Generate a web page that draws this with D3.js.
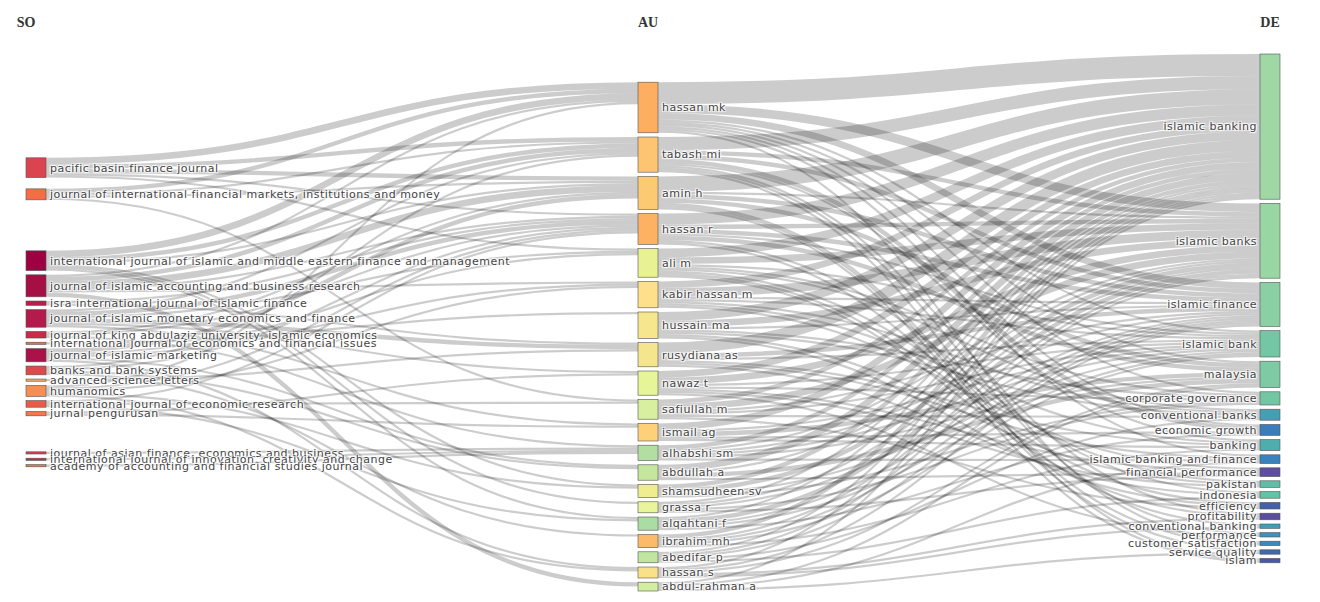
<!DOCTYPE html>
<html lang="en">
<head>
  <meta charset="UTF-8" />
  <title>Three-Field Plot: SO - AU - DE</title>
  <script src="https://d3js.org/d3.v7.min.js"></script>
  <style>
    body { margin: 0; padding: 0; background: #fff; }
    .link { fill: none; stroke: rgba(0, 0, 0, 0.2); }
    .node rect { stroke: #555; stroke-width: 0.6; }
    .node text {
      font-family: "DejaVu Sans", Verdana, sans-serif;
      font-size: 11px;
      letter-spacing: 0.5px;
      fill: #444;
      text-shadow: 1px 1px 1px #fff, -1px -1px 1px #fff, 1px -1px 1px #fff, -1px 1px 1px #fff;
    }
    .field-title {
      font-family: "Liberation Serif", "Times New Roman", serif;
      font-weight: bold;
      font-size: 14px;
      fill: #333;
    }
  </style>
</head>
<body>
<div id="chart"></div>
<script>
  /*****************************************************************
   * Data: the three fields and their node colours
   *****************************************************************/
  const fields = ["SO", "AU", "DE"];

  const soNames = [
    "pacific basin finance journal",
    "journal of international financial markets, institutions and money",
    "international journal of islamic and middle eastern finance and management",
    "journal of islamic accounting and business research",
    "isra international journal of islamic finance",
    "journal of islamic monetary economics and finance",
    "journal of king abdulaziz university, islamic economics",
    "international journal of economics and financial issues",
    "journal of islamic marketing",
    "banks and bank systems",
    "advanced science letters",
    "humanomics",
    "international journal of economic research",
    "jurnal pengurusan",
    "journal of asian finance, economics and business",
    "international journal of innovation, creativity and change",
    "academy of accounting and financial studies journal"
  ];
  const soColors = [
    "#d9444f", "#f46d43", "#9e0142", "#a50f44", "#b8204a", "#b41a4a",
    "#c72b48", "#f06b45", "#aa1248", "#dc4a4c", "#fca65e", "#f98e52",
    "#e85c47", "#f4794a", "#d1404e", "#c12d49", "#e9774b"
  ];

  const auNames = [
    "hassan mk", "tabash mi", "amin h", "hassan r", "ali m", "kabir hassan m",
    "hussain ma", "rusydiana as", "nawaz t", "safiullah m", "ismail ag",
    "alhabshi sm", "abdullah a", "shamsudheen sv", "grassa r", "alqahtani f",
    "ibrahim mh", "abedifar p", "hassan s", "abdul-rahman a"
  ];
  const auColors = [
    "#fdae61", "#fdc571", "#fdca74", "#fdb263", "#e8f193", "#fee08b",
    "#f6e78e", "#f5e68d", "#e6f598", "#d8efa0", "#fed07a", "#b2dea2",
    "#c5e79d", "#f0ec90", "#e9f59a", "#aadda3", "#fdba6b", "#bfe5a0",
    "#fbe08a", "#d3eea0"
  ];

  const deNames = [
    "islamic banking", "islamic banks", "islamic finance", "islamic bank",
    "malaysia", "corporate governance", "conventional banks", "economic growth",
    "banking", "islamic banking and finance", "financial performance",
    "pakistan", "indonesia", "efficiency", "profitability",
    "conventional banking", "performance", "customer satisfaction",
    "service quality", "islam"
  ];
  const deColors = [
    "#9fd8a4", "#98d6a3", "#8bd0a4", "#73c7a5", "#7dcaa4", "#72c6a4",
    "#43a0b3", "#3a7dba", "#4eaeae", "#3683c0", "#5e4ea1", "#5fbea7",
    "#66c2a5", "#4263ab", "#5a4d9f", "#3ba0b8", "#3f92bd", "#3b89bd",
    "#4169ac", "#4b5aa8"
  ];

  // source -> author flows
  const soAuLinks = [
    ["pacific basin finance journal", "hassan mk", 3],
    ["pacific basin finance journal", "tabash mi", 2],
    ["pacific basin finance journal", "amin h", 2],
    ["pacific basin finance journal", "hassan r", 1],
    ["pacific basin finance journal", "ali m", 1],
    ["journal of international financial markets, institutions and money", "hassan mk", 2],
    ["journal of international financial markets, institutions and money", "tabash mi", 1],
    ["journal of international financial markets, institutions and money", "amin h", 1],
    ["journal of international financial markets, institutions and money", "safiullah m", 1],
    ["international journal of islamic and middle eastern finance and management", "hassan mk", 3],
    ["international journal of islamic and middle eastern finance and management", "tabash mi", 2],
    ["international journal of islamic and middle eastern finance and management", "amin h", 1],
    ["international journal of islamic and middle eastern finance and management", "shamsudheen sv", 1],
    ["international journal of islamic and middle eastern finance and management", "grassa r", 1],
    ["international journal of islamic and middle eastern finance and management", "alqahtani f", 1],
    ["journal of islamic accounting and business research", "hassan mk", 1],
    ["journal of islamic accounting and business research", "tabash mi", 2],
    ["journal of islamic accounting and business research", "amin h", 3],
    ["journal of islamic accounting and business research", "hassan r", 1],
    ["journal of islamic accounting and business research", "kabir hassan m", 1],
    ["journal of islamic accounting and business research", "abdul-rahman a", 2],
    ["isra international journal of islamic finance", "hassan r", 1],
    ["isra international journal of islamic finance", "rusydiana as", 1],
    ["journal of islamic monetary economics and finance", "tabash mi", 1],
    ["journal of islamic monetary economics and finance", "hassan r", 2],
    ["journal of islamic monetary economics and finance", "ali m", 1],
    ["journal of islamic monetary economics and finance", "rusydiana as", 2],
    ["journal of islamic monetary economics and finance", "nawaz t", 1],
    ["journal of islamic monetary economics and finance", "ismail ag", 1],
    ["journal of king abdulaziz university, islamic economics", "amin h", 1],
    ["journal of king abdulaziz university, islamic economics", "hassan r", 1],
    ["journal of king abdulaziz university, islamic economics", "alhabshi sm", 1],
    ["international journal of economics and financial issues", "hussain ma", 1],
    ["journal of islamic marketing", "amin h", 2],
    ["journal of islamic marketing", "ali m", 1],
    ["journal of islamic marketing", "kabir hassan m", 1],
    ["journal of islamic marketing", "abdullah a", 1],
    ["journal of islamic marketing", "hassan s", 1],
    ["banks and bank systems", "tabash mi", 1],
    ["banks and bank systems", "hassan r", 1],
    ["banks and bank systems", "abdullah a", 1],
    ["banks and bank systems", "ibrahim mh", 1],
    ["advanced science letters", "rusydiana as", 1],
    ["humanomics", "hassan mk", 1],
    ["humanomics", "hassan r", 1],
    ["humanomics", "kabir hassan m", 1],
    ["humanomics", "shamsudheen sv", 1],
    ["humanomics", "hassan s", 1],
    ["international journal of economic research", "hassan r", 1],
    ["international journal of economic research", "safiullah m", 1],
    ["international journal of economic research", "alqahtani f", 1],
    ["jurnal pengurusan", "nawaz t", 1],
    ["jurnal pengurusan", "ismail ag", 1],
    ["journal of asian finance, economics and business", "alhabshi sm", 1],
    ["international journal of innovation, creativity and change", "alhabshi sm", 1],
    ["academy of accounting and financial studies journal", "alhabshi sm", 1]
  ];

  // author -> keyword flows
  const auDeLinks = [
    ["hassan mk", "islamic banking", 10], ["hassan mk", "islamic banks", 4],
    ["hassan mk", "islamic finance", 3], ["hassan mk", "islamic bank", 1],
    ["hassan mk", "malaysia", 1], ["hassan mk", "corporate governance", 1],
    ["hassan mk", "economic growth", 1], ["hassan mk", "islamic banking and finance", 1],
    ["hassan mk", "customer satisfaction", 1],
    ["tabash mi", "islamic banking", 6], ["tabash mi", "islamic banks", 2],
    ["tabash mi", "islamic finance", 2], ["tabash mi", "economic growth", 2],
    ["tabash mi", "banking", 1], ["tabash mi", "profitability", 1],
    ["tabash mi", "performance", 1], ["tabash mi", "islam", 1],
    ["amin h", "islamic banking", 7], ["amin h", "islamic banks", 1],
    ["amin h", "islamic finance", 2], ["amin h", "malaysia", 2],
    ["amin h", "customer satisfaction", 1], ["amin h", "service quality", 1],
    ["amin h", "islam", 1],
    ["hassan r", "islamic banking", 5], ["hassan r", "islamic banks", 2],
    ["hassan r", "islamic finance", 2], ["hassan r", "islamic bank", 1],
    ["hassan r", "malaysia", 2], ["hassan r", "indonesia", 1],
    ["hassan r", "conventional banking", 1],
    ["ali m", "islamic banking", 4], ["ali m", "islamic banks", 3],
    ["ali m", "islamic bank", 1], ["ali m", "corporate governance", 1],
    ["ali m", "conventional banks", 1], ["ali m", "pakistan", 1],
    ["ali m", "efficiency", 1], ["ali m", "profitability", 1],
    ["kabir hassan m", "islamic banking", 3], ["kabir hassan m", "islamic banks", 4],
    ["kabir hassan m", "islamic finance", 1], ["kabir hassan m", "islamic bank", 1],
    ["kabir hassan m", "conventional banks", 1], ["kabir hassan m", "banking", 1],
    ["kabir hassan m", "financial performance", 1],
    ["hussain ma", "islamic banking", 4], ["hussain ma", "islamic banks", 3],
    ["hussain ma", "islamic finance", 1], ["hussain ma", "corporate governance", 1],
    ["hussain ma", "conventional banks", 1], ["hussain ma", "pakistan", 1],
    ["hussain ma", "efficiency", 1],
    ["rusydiana as", "islamic banking", 5], ["rusydiana as", "islamic finance", 2],
    ["rusydiana as", "islamic bank", 1], ["rusydiana as", "banking", 1],
    ["rusydiana as", "islamic banking and finance", 1], ["rusydiana as", "indonesia", 1],
    ["nawaz t", "islamic banking", 3], ["nawaz t", "islamic banks", 3],
    ["nawaz t", "islamic bank", 1], ["nawaz t", "corporate governance", 1],
    ["nawaz t", "financial performance", 1], ["nawaz t", "pakistan", 1],
    ["nawaz t", "performance", 1],
    ["safiullah m", "islamic banking", 2], ["safiullah m", "islamic banks", 3],
    ["safiullah m", "islamic finance", 1], ["safiullah m", "islamic bank", 1],
    ["safiullah m", "conventional banks", 1], ["safiullah m", "efficiency", 1],
    ["ismail ag", "islamic banking", 3], ["ismail ag", "islamic bank", 1],
    ["ismail ag", "malaysia", 2], ["ismail ag", "economic growth", 1],
    ["ismail ag", "banking", 1],
    ["alhabshi sm", "islamic banking", 2], ["alhabshi sm", "islamic banks", 1],
    ["alhabshi sm", "islamic finance", 1], ["alhabshi sm", "islamic bank", 1],
    ["alhabshi sm", "malaysia", 1], ["alhabshi sm", "islamic banking and finance", 1],
    ["abdullah a", "islamic banking", 3], ["abdullah a", "islamic banks", 1],
    ["abdullah a", "malaysia", 2], ["abdullah a", "financial performance", 1],
    ["shamsudheen sv", "islamic banking", 2], ["shamsudheen sv", "islamic banks", 2],
    ["shamsudheen sv", "islamic bank", 1], ["shamsudheen sv", "corporate governance", 1],
    ["grassa r", "islamic banking", 1], ["grassa r", "islamic banks", 1],
    ["grassa r", "islamic finance", 1], ["grassa r", "corporate governance", 1],
    ["grassa r", "financial performance", 1],
    ["alqahtani f", "islamic banking", 1], ["alqahtani f", "islamic banks", 2],
    ["alqahtani f", "islamic finance", 1], ["alqahtani f", "islamic bank", 1],
    ["alqahtani f", "economic growth", 1],
    ["ibrahim mh", "islamic banking", 2], ["ibrahim mh", "islamic banks", 1],
    ["ibrahim mh", "islamic finance", 1], ["ibrahim mh", "islamic bank", 1],
    ["ibrahim mh", "banking", 1],
    ["abedifar p", "islamic banking", 1], ["abedifar p", "islamic banks", 1],
    ["abedifar p", "islamic finance", 1], ["abedifar p", "conventional banks", 1],
    ["abedifar p", "indonesia", 1],
    ["hassan s", "islamic banking", 1], ["hassan s", "islamic finance", 1],
    ["hassan s", "malaysia", 1], ["hassan s", "profitability", 1],
    ["hassan s", "conventional banking", 1],
    ["abdul-rahman a", "islamic banking", 1], ["abdul-rahman a", "malaysia", 1],
    ["abdul-rahman a", "islamic banking and finance", 1], ["abdul-rahman a", "service quality", 1]
  ];

  /*****************************************************************
   * Layout constants
   *****************************************************************/
  const width = 1320;
  const height = 602;
  const nodeWidth = 20;
  const nodePad = 4.2;
  const yTop = 54, yBottom = 591;

  const xCol = d3.scaleLinear().domain([0, 1, 2]).range([26, 638, 1260]);
  const xTitle = d3.scalePoint().domain(fields).range([26, 1270]);
  const ky = d3.scaleLinear().domain([0, 1]).range([0, 2.2]);

  /*****************************************************************
   * Build the graph
   *****************************************************************/
  const columns = [soNames, auNames, deNames].map((names, c) =>
    names.map((name, i) => ({
      name, col: c,
      color: [soColors, auColors, deColors][c][i],
      sourceLinks: [], targetLinks: []
    }))
  );
  const lookup = columns.map(col => new Map(col.map(n => [n.name, n])));

  const links = [];
  function addLinks(rows, c) {
    rows.forEach(([s, t, v]) => {
      const l = { source: lookup[c].get(s), target: lookup[c + 1].get(t), value: v };
      l.source.sourceLinks.push(l);
      l.target.targetLinks.push(l);
      links.push(l);
    });
  }
  addLinks(soAuLinks, 0);
  addLinks(auDeLinks, 1);

  columns.flat().forEach(n => {
    n.value = Math.max(d3.sum(n.sourceLinks, l => l.value), d3.sum(n.targetLinks, l => l.value));
    n.h = ky(n.value);
    n.x0 = xCol(n.col);
    n.x1 = n.x0 + nodeWidth;
  });

  // DE column hangs from the top, AU column sits on the bottom
  let y = yTop;
  columns[2].forEach(n => { n.y0 = y; n.y1 = y + n.h; y = n.y1 + nodePad; });
  y = yBottom;
  columns[1].slice().reverse().forEach(n => { n.y1 = y; n.y0 = y - n.h; y = n.y0 - nodePad; });

  // SO nodes drift to the weighted centre of their authors, then collisions are resolved
  const center = n => (n.y0 + n.y1) / 2;
  columns[0].forEach(n => {
    const c = d3.sum(n.sourceLinks, l => center(l.target) * l.value) / d3.sum(n.sourceLinks, l => l.value);
    n.y0 = c - n.h / 2;
    n.y1 = c + n.h / 2;
  });
  y = yTop;
  columns[0].forEach(n => {
    const dy = y - n.y0;
    if (dy > 0) { n.y0 += dy; n.y1 += dy; }
    y = n.y1 + nodePad;
  });

  // stack links within each node
  columns.flat().forEach(n => {
    n.sourceLinks.sort((a, b) => a.target.y0 - b.target.y0);
    n.targetLinks.sort((a, b) => a.source.y0 - b.source.y0);
    let sy = n.y0;
    n.sourceLinks.forEach(l => { l.width = ky(l.value); l.sy = sy + l.width / 2; sy += l.width; });
    let ty = n.y0;
    n.targetLinks.forEach(l => { l.ty = ty + ky(l.value) / 2; ty += ky(l.value); });
  });

  /*****************************************************************
   * Draw
   *****************************************************************/
  const svg = d3.select("#chart").append("svg")
    .attr("width", width)
    .attr("height", height);

  const linkPath = d3.linkHorizontal()
    .source(d => [d.source.x1, d.sy])
    .target(d => [d.target.x0, d.ty]);

  svg.append("g")
    .selectAll("path")
    .data(links)
    .join("path")
    .attr("class", "link")
    .attr("d", linkPath)
    .attr("stroke-width", d => Math.max(1, d.width));

  const node = svg.append("g")
    .selectAll("g")
    .data(columns.flat())
    .join("g")
    .attr("class", "node");

  node.append("rect")
    .attr("x", d => d.x0)
    .attr("y", d => d.y0)
    .attr("width", nodeWidth)
    .attr("height", d => Math.max(1, d.y1 - d.y0))
    .attr("fill", d => d.color);

  node.append("text")
    .attr("x", d => d.col < 2 ? d.x1 + 4 : d.x0 - 3)
    .attr("y", d => center(d))
    .attr("dy", "0.35em")
    .attr("text-anchor", d => d.col < 2 ? "start" : "end")
    .text(d => d.name);

  svg.append("g")
    .selectAll("text")
    .data(fields)
    .join("text")
    .attr("class", "field-title")
    .attr("x", d => xTitle(d))
    .attr("y", 27)
    .attr("text-anchor", "middle")
    .text(d => d);
</script>
</body>
</html>
